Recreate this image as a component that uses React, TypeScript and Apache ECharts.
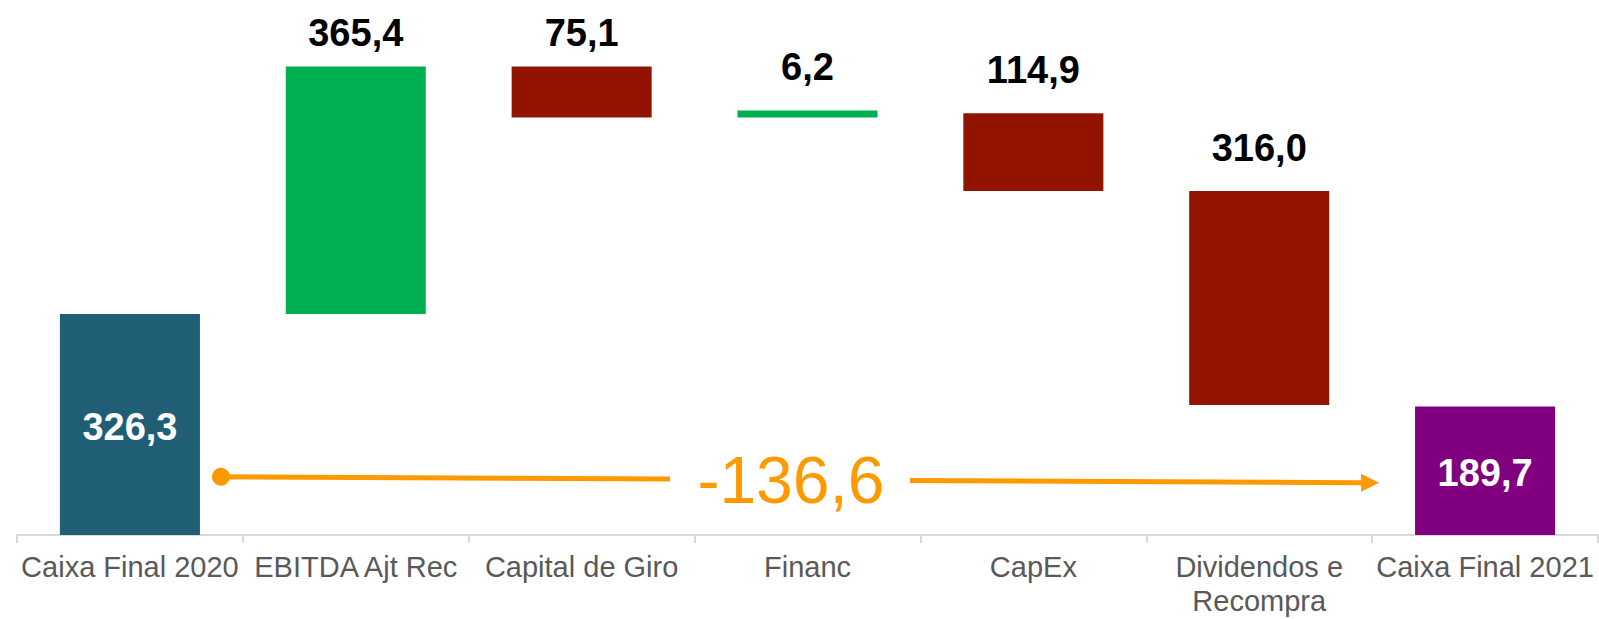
import React, { useEffect, useRef } from "react";
import * as echarts from "echarts";

const categories = [
  "Caixa Final 2020",
  "EBITDA Ajt Rec",
  "Capital de Giro",
  "Financ",
  "CapEx",
  "Dividendos e\nRecompra",
  "Caixa Final 2021",
];
// signed change per step (first and last are totals)
const changes = [326.3, 365.4, -75.1, 6.2, -114.9, -316.0, 189.7];
const totalIdx = [0, 6];
const netChangeLabel = "-136,6";
const arrowStartValue = 86;
const arrowEndValue = 77;

const COLORS = {
  start: "#1F5E75",
  end: "#800080",
  up: "#00B050",
  down: "#921300",
  arrow: "#FF9900",
};

const fmt = (v: number) => Math.abs(v).toFixed(1).replace(".", ",");

export default function App() {
  const ref = useRef<HTMLDivElement>(null);
  useEffect(() => {
    if (!ref.current) return;
    const chart = echarts.init(ref.current, null, { renderer: "svg" });

    const base: number[] = [];
    const heights: number[] = [];
    const tops: number[] = [];
    let running = 0;
    changes.forEach((c, i) => {
      if (totalIdx.includes(i)) {
        base.push(0);
        heights.push(c);
        running = c;
        tops.push(c);
      } else {
        const next = running + c;
        base.push(Math.min(running, next));
        heights.push(Math.abs(c));
        tops.push(Math.max(running, next));
        running = next;
      }
    });

    const boldFont = "'Liberation Sans', Arial, sans-serif";
    const data = heights.map((h, i) => {
      const isTotal = totalIdx.includes(i);
      const color = i === 0 ? COLORS.start : i === changes.length - 1 ? COLORS.end : changes[i] >= 0 ? COLORS.up : COLORS.down;
      return {
        value: h,
        itemStyle: { color },
        label: isTotal
          ? { show: true, position: "inside", offset: [0, 2], color: "#fff", fontSize: 38, fontWeight: "bold", fontFamily: boldFont, formatter: () => fmt(changes[i]) }
          : { show: true, position: "top", distance: tops[i] > 680 ? 15 : 24, color: "#000", fontSize: 38, fontWeight: "bold", fontFamily: boldFont, formatter: () => fmt(changes[i]) },
      };
    });

    chart.setOption({
      animation: false,
      grid: { left: 17, right: 1, top: 0, bottom: 84 },
      xAxis: {
        type: "category",
        data: categories,
        axisLine: { lineStyle: { color: "#D9D9D9", width: 2 } },
        axisTick: { show: true, length: 8, lineStyle: { color: "#D9D9D9", width: 2 } },
        axisLabel: {
          color: "#595959",
          fontSize: 29,
          fontFamily: "'Liberation Sans', Arial, sans-serif",
          margin: 15,
          lineHeight: 34,
          interval: 0,
        },
      },
      yAxis: { type: "value", min: 0, max: 790, show: false, splitLine: { show: false } },
      series: [
        {
          type: "bar",
          stack: "w",
          data: base,
          itemStyle: { color: "transparent" },
          barWidth: "62%",
          silent: true,
        },
        {
          type: "bar",
          stack: "w",
          data,
          barWidth: "62%",
          barMinHeight: 7,
        },
      ],
    });

    const p0 = chart.convertToPixel({ xAxisIndex: 0, yAxisIndex: 0 }, [0, arrowStartValue]) as number[];
    const p1 = chart.convertToPixel({ xAxisIndex: 0, yAxisIndex: 0 }, [categories.length - 1, arrowEndValue]) as number[];
    const x0 = p0[0] + 91;
    const y0 = p0[1];
    const tip = p1[0] - 106;
    const y1 = p1[1];
    const lineEnd = tip - 18;
    const tx = (x0 + tip) / 2 - 9;
    const yAt = (x: number) => y0 + ((y1 - y0) * (x - x0)) / (tip - x0);
    const leftEnd = tx - 121;
    const rightStart = tx + 119;
    chart.setOption({
      graphic: [
        { type: "circle", shape: { cx: x0, cy: y0, r: 9 }, style: { fill: COLORS.arrow } },
        { type: "line", shape: { x1: x0, y1: y0, x2: leftEnd, y2: yAt(leftEnd) }, style: { stroke: COLORS.arrow, lineWidth: 5 } },
        { type: "line", shape: { x1: rightStart, y1: yAt(rightStart), x2: lineEnd, y2: yAt(lineEnd) }, style: { stroke: COLORS.arrow, lineWidth: 5 } },
        {
          type: "polygon",
          shape: { points: [[tip, y1], [lineEnd, y1 - 9], [lineEnd, y1 + 9]] },
          style: { fill: COLORS.arrow },
        },
        {
          type: "text",
          x: tx,
          y: yAt(tx),
          style: {
            text: netChangeLabel,
            fill: COLORS.arrow,
            fontSize: 66,
            fontFamily: "'Liberation Sans', Arial, sans-serif",
            textAlign: "center",
            textVerticalAlign: "middle",
          },
        },
      ],
    });

    return () => chart.dispose();
  }, []);
  return (
    <div
      ref={ref}
      style={{ position: "fixed", left: 0, top: 0, width: 1599, height: 619, background: "#fff" }}
    />
  );
}
